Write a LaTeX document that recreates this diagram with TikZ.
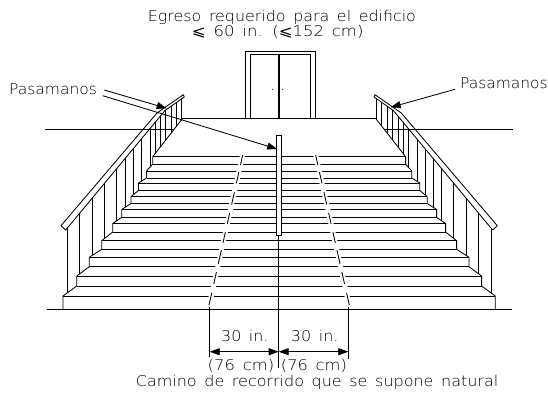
\documentclass[tikz,border=0pt]{standalone}
\usepackage{fontspec}
\usepackage{graphicx}
\setmainfont{DejaVu Sans}[UprightFont=* ExtraLight,WordSpace=1.5]
\newfontfamily\symf{DejaVu Sans}
\usetikzlibrary{arrows.meta}
\tikzset{
  ln/.style={line width=0.85pt,black},
  ptr/.style={ln,-{Triangle[length=10pt,width=7pt]}},
  dimline/.style={ln,{Triangle[length=10pt,width=7pt]}-{Triangle[length=10pt,width=7pt]}},
  lbl/.style={inner sep=0pt,anchor=base west,font=\fontsize{14.8pt}{15pt}\selectfont}
}
\newcommand{\fitw}[2]{\resizebox{#1pt}{\height}{#2}}
\newcommand{\halfrail}{%
  \draw[ln,line join=round] (63,309) -- (63,296) -- (76.7,286) -- (76.7,276) -- (89.3,266.7) -- (89.3,257.3) -- (101.7,249.3) -- (101.7,240.7) -- (112.7,232) -- (112.7,223.5) -- (121.7,217.3) -- (121.7,209.5) -- (131,203.5) -- (131,196.7) -- (138.5,190.5) -- (138.5,183) -- (146.5,178) -- (146.5,171) -- (152.7,164.3) -- (152.7,156.7) -- (182.7,118.3);
  \begin{scope}
    \clip (65.7,230) -- (165,110.5) -- (184.3,97) -- (184.3,116.6) -- (182.7,118.3) -- (152.7,156.7) -- (152.7,164.3) -- (146.5,171) -- (146.5,178) -- (138.5,183) -- (138.5,190.5) -- (131,196.7) -- (131,203.5) -- (121.7,209.5) -- (121.7,217.3) -- (112.7,223.5) -- (112.7,232) -- (101.7,240.7) -- (101.7,249.3) -- (89.3,257.3) -- (89.3,266.7) -- (76.7,276) -- (76.7,286) -- (63,296) -- cycle;
    \foreach \bx in {67.3,79.7,92.3,104.7,116.5,125,133.3,141,150,155,160,165.7,171,176.7,181.7}
      \draw[ln] (\bx,90) -- (\bx,300);
  \end{scope}
  \draw[ln,line join=round] (61,225.7) -- (157,113) -- (183.3,94.7) -- (184.3,97) -- (165,110.5) -- (65.7,230) -- cycle;
}
\begin{document}
\begin{tikzpicture}[x=1pt,y=-1pt]
\useasboundingbox (0,0) rectangle (548,394);
% ground, wall, landing
\draw[ln] (46.7,309.3) -- (512,309.3);
\draw[ln] (45.3,129) -- (174,129);
\draw[ln] (384.3,129) -- (512.7,129);
\draw[ln] (182.7,118.3) -- (375.6,118.3);
% door
\draw[ln] (245.7,118.3) -- (245.7,51) -- (315.3,51) -- (315.3,118.3);
\draw[ln] (250.7,118.3) -- (250.7,54.3) -- (310.3,54.3) -- (310.3,118.3);
\draw[line width=1.2pt] (279,54.3) -- (279,118.3);
\fill (272.7,89.3) circle (0.6pt) (282.7,89.3) circle (0.6pt);
% treads
\foreach \ty/\tx in {296/63,286/76.7,276/76.7,266.7/89.3,257.3/89.3,249.3/101.7,240.7/101.7,232/112.7,223.5/112.7,217.3/121.7,209.5/121.7,203.5/131,196.7/131,190.5/138.5,183/138.5,178/146.5,171/146.5,164.3/152.7,156.7/152.7}
  \draw[ln] (\tx,\ty) -- ({558.3-\tx},\ty);
% walking path: gaps and dashes
\draw[white,line width=5pt] (243,153) -- (209.5,304);
\draw[white,line width=5pt] (315.3,153) -- (348.8,304);
\foreach \ya/\yb in {155/165,172/183.5,192/204.5,213/224,232/243,250/264,272/284,293/305} {
  \draw[ln] ({242.7-(\ya-155)*0.2245},\ya) -- ({242.7-(\yb-155)*0.2245},\yb);
  \draw[ln] ({315.6+(\ya-155)*0.2245},\ya) -- ({315.6+(\yb-155)*0.2245},\yb);
}
% railings
\halfrail
\begin{scope}[shift={(558.3,0)},xscale=-1]
  \halfrail
\end{scope}
% centre line and post
\draw[ln] (278.7,235.7) -- (278.7,368);
\draw[ln,fill=white] (276.7,135) rectangle (281.7,235.7);
% dimensions
\coordinate (extL) at (209.7,306.7);
\coordinate (extLb) at (209.7,357);
\coordinate (extR) at (348.3,306.7);
\coordinate (extRb) at (348.3,359.3);
\coordinate (dL) at (209.7,351.7);
\coordinate (dM) at (278.7,351.7);
\coordinate (dR) at (348.3,351.7);
\draw[ln] (extL) -- (extLb);
\draw[ln] (extR) -- (extRb);
\draw[dimline] (dL) -- (dM);
\draw[dimline] (dM) -- (dR);
% texts
\node[lbl] (t1) at (147.7,21.7) {\fitw{268}{Egreso requerido para el edificio}};
\node[lbl] (t2) at (191.7,36) {\fitw{171.6}{{\symf ⩽} 60 in. ({\symf ⩽}152 cm)}};
\node[lbl] (pl) at (9,94.3) {\fitw{87.7}{Pasamanos}};
\node[lbl] (pr) at (460,88.7) {\fitw{87.5}{Pasamanos}};
\node[lbl] (d1) at (221,341.7) {\fitw{47.3}{30 in.}};
\node[lbl] (d2) at (290.7,341.7) {\fitw{47.6}{30 in.}};
\node[lbl] (d3) at (207.5,370.7) {\fitw{66.5}{(76 cm)}};
\node[lbl] (d4) at (280.7,370.7) {\fitw{66}{(76 cm)}};
\node[lbl] (t3) at (135.7,386.3) {\fitw{362.3}{Camino de recorrido que se supone natural}};
% leaders
\coordinate (a1s) at (104.3,90);
\coordinate (a1e) at (166.7,108.3);
\coordinate (a2s) at (102.7,95.7);
\coordinate (a2e) at (277.2,149);
\coordinate (a3s) at (455,89.3);
\coordinate (a3e) at (390.7,107.3);
\draw[ptr] (a1s) -- (a1e);
\draw[ptr] (a2s) -- (a2e);
\draw[ptr] (a3s) -- (a3e);
\end{tikzpicture}
\end{document}
